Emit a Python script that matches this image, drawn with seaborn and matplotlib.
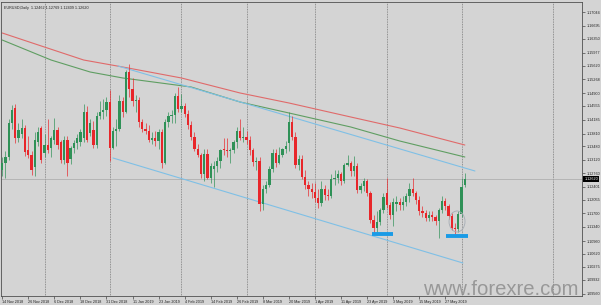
import numpy as np
import pandas as pd
import matplotlib
matplotlib.use("Agg")
import matplotlib.pyplot as plt
import seaborn as sns
from matplotlib.patches import Ellipse
from matplotlib.transforms import blended_transform_factory

# ---------------- data (EURUSD daily) ----------------
opens = [1.1285, 1.1304, 1.1320, 1.1410, 1.1450, 1.1370, 1.1380, 1.1397, 1.1338, 1.1325,
         1.1293, 1.1360, 1.1397, 1.1330, 1.1352, 1.1344, 1.1365, 1.1392, 1.1360, 1.1312,
         1.1365, 1.1315, 1.1344, 1.1357, 1.1360, 1.1370, 1.1440, 1.1384, 1.1392, 1.1352,
         1.1430, 1.1440, 1.1446, 1.1466, 1.1345, 1.1390, 1.1395, 1.1470, 1.1440, 1.1545,
         1.1500, 1.1468, 1.1472, 1.1412, 1.1395, 1.1388, 1.1364, 1.1370, 1.1362, 1.1385,
         1.1305, 1.1412, 1.1428, 1.1432, 1.1482, 1.1447, 1.1455, 1.1435, 1.1405, 1.1372,
         1.1342, 1.1325, 1.1275, 1.1327, 1.1265, 1.1288, 1.1296, 1.1310, 1.1340, 1.1338,
         1.1335, 1.1338, 1.1360, 1.1390, 1.1370, 1.1372, 1.1364, 1.1338, 1.1306, 1.1308,
         1.1195, 1.1235, 1.1245, 1.1287, 1.1330, 1.1305, 1.1326, 1.1340, 1.1357, 1.1413,
         1.1373, 1.1299, 1.1315, 1.1267, 1.1245, 1.1235, 1.1227, 1.1212, 1.1197, 1.1235,
         1.1220, 1.1215, 1.1262, 1.1265, 1.1275, 1.1255, 1.1298, 1.1305, 1.1282, 1.1296,
         1.1232, 1.1243, 1.1255, 1.1224, 1.1152, 1.1131, 1.1148, 1.1179, 1.1224, 1.1192,
         1.1166, 1.1195, 1.1200, 1.1192, 1.1200, 1.1215, 1.1235, 1.1225, 1.1205, 1.1175,
         1.1172, 1.1157, 1.1165, 1.1160, 1.1150, 1.1180, 1.1203, 1.1190, 1.1162, 1.1131,
         1.1128, 1.1168, 1.1246]
highs = [1.1320, 1.1335, 1.1420, 1.1458, 1.1460, 1.1410, 1.1420, 1.1405, 1.1375, 1.1335,
         1.1385, 1.1400, 1.1402, 1.1380, 1.1420, 1.1375, 1.1424, 1.1400, 1.1365, 1.1375,
         1.1375, 1.1350, 1.1365, 1.1380, 1.1395, 1.1460, 1.1455, 1.1420, 1.1415, 1.1440,
         1.1470, 1.1475, 1.1480, 1.1498, 1.1400, 1.1420, 1.1485, 1.1480, 1.1550, 1.1568,
         1.1530, 1.1485, 1.1480, 1.1420, 1.1410, 1.1405, 1.1385, 1.1390, 1.1395, 1.1395,
         1.1420, 1.1440, 1.1445, 1.1490, 1.1505, 1.1488, 1.1463, 1.1445, 1.1415, 1.1385,
         1.1355, 1.1330, 1.1340, 1.1340, 1.1305, 1.1310, 1.1320, 1.1340, 1.1370, 1.1370,
         1.1345, 1.1365, 1.1400, 1.1420, 1.1400, 1.1390, 1.1375, 1.1345, 1.1320, 1.1320,
         1.1245, 1.1255, 1.1295, 1.1340, 1.1340, 1.1346, 1.1345, 1.1362, 1.1440, 1.1430,
         1.1385, 1.1325, 1.1325, 1.1285, 1.1255, 1.1250, 1.1250, 1.1235, 1.1255, 1.1245,
         1.1235, 1.1275, 1.1285, 1.1285, 1.1280, 1.1305, 1.1325, 1.1310, 1.1323, 1.1305,
         1.1250, 1.1265, 1.1262, 1.1230, 1.1165, 1.1175, 1.1185, 1.1225, 1.1265, 1.1200,
         1.1210, 1.1215, 1.1210, 1.1215, 1.1225, 1.1250, 1.1263, 1.1230, 1.1215, 1.1190,
         1.1180, 1.1175, 1.1175, 1.1165, 1.1185, 1.1215, 1.1210, 1.1195, 1.1170, 1.1145,
         1.1175, 1.1265, 1.1277]
lows = [1.1270, 1.1265, 1.1312, 1.1395, 1.1357, 1.1360, 1.1370, 1.1323, 1.1318, 1.1272,
        1.1270, 1.1350, 1.1305, 1.1320, 1.1330, 1.1320, 1.1355, 1.1340, 1.1305, 1.1300,
        1.1269, 1.1300, 1.1330, 1.1340, 1.1350, 1.1360, 1.1360, 1.1375, 1.1345, 1.1345,
        1.1420, 1.1420, 1.1430, 1.1310, 1.1340, 1.1350, 1.1390, 1.1425, 1.1438, 1.1480,
        1.1455, 1.1440, 1.1400, 1.1385, 1.1380, 1.1360, 1.1355, 1.1350, 1.1340, 1.1290,
        1.1300, 1.1400, 1.1410, 1.1410, 1.1440, 1.1440, 1.1425, 1.1395, 1.1365, 1.1335,
        1.1320, 1.1265, 1.1255, 1.1260, 1.1250, 1.1240, 1.1280, 1.1290, 1.1325, 1.1320,
        1.1305, 1.1330, 1.1345, 1.1365, 1.1360, 1.1355, 1.1325, 1.1295, 1.1285, 1.1176,
        1.1180, 1.1225, 1.1240, 1.1280, 1.1292, 1.1300, 1.1320, 1.1330, 1.1335, 1.1365,
        1.1290, 1.1285, 1.1260, 1.1235, 1.1215, 1.1210, 1.1200, 1.1184, 1.1190, 1.1205,
        1.1205, 1.1210, 1.1245, 1.1250, 1.1245, 1.1250, 1.1295, 1.1270, 1.1270, 1.1225,
        1.1225, 1.1230, 1.1215, 1.1145, 1.1118, 1.1112, 1.1140, 1.1170, 1.1185, 1.1155,
        1.1135, 1.1175, 1.1180, 1.1180, 1.1190, 1.1200, 1.1215, 1.1195, 1.1165, 1.1160,
        1.1150, 1.1150, 1.1150, 1.1140, 1.1105, 1.1170, 1.1180, 1.1155, 1.1125, 1.1116,
        1.1120, 1.1160, 1.1241]
closes = [1.1304, 1.1320, 1.1410, 1.1445, 1.1370, 1.1392, 1.1397, 1.1333, 1.1325, 1.1285,
          1.1365, 1.1386, 1.1312, 1.1352, 1.1338, 1.1370, 1.1392, 1.1352, 1.1312, 1.1365,
          1.1304, 1.1344, 1.1357, 1.1370, 1.1385, 1.1440, 1.1365, 1.1410, 1.1352, 1.1430,
          1.1440, 1.1446, 1.1466, 1.1345, 1.1390, 1.1395, 1.1470, 1.1440, 1.1545, 1.1500,
          1.1468, 1.1472, 1.1412, 1.1395, 1.1388, 1.1364, 1.1370, 1.1362, 1.1385, 1.1305,
          1.1412, 1.1428, 1.1432, 1.1482, 1.1447, 1.1455, 1.1435, 1.1405, 1.1372, 1.1342,
          1.1325, 1.1275, 1.1327, 1.1265, 1.1295, 1.1296, 1.1310, 1.1338, 1.1338, 1.1335,
          1.1338, 1.1360, 1.1390, 1.1370, 1.1372, 1.1364, 1.1338, 1.1306, 1.1308, 1.1195,
          1.1235, 1.1245, 1.1287, 1.1330, 1.1305, 1.1326, 1.1340, 1.1350, 1.1413, 1.1373,
          1.1299, 1.1315, 1.1267, 1.1245, 1.1235, 1.1227, 1.1212, 1.1197, 1.1235, 1.1220,
          1.1215, 1.1262, 1.1265, 1.1275, 1.1255, 1.1298, 1.1305, 1.1282, 1.1296, 1.1232,
          1.1243, 1.1255, 1.1224, 1.1152, 1.1131, 1.1148, 1.1179, 1.1213, 1.1192, 1.1166,
          1.1200, 1.1200, 1.1192, 1.1200, 1.1215, 1.1235, 1.1225, 1.1205, 1.1175, 1.1172,
          1.1157, 1.1165, 1.1160, 1.1150, 1.1180, 1.1203, 1.1190, 1.1162, 1.1131, 1.1128,
          1.1168, 1.1240, 1.1262]

# moving averages (sampled vertices, bar index -> price)
ma_idx = [0, 12, 25, 37, 55, 73, 88, 107, 122, 142]
ma_red = [1.16497, 1.16151, 1.15778, 1.15592, 1.15300, 1.14901, 1.14635, 1.14262, 1.13970, 1.13517]
ma_green_idx = [0, 15, 27, 37, 58, 73, 88, 107, 122, 142]
ma_green = [1.16310, 1.15778, 1.15459, 1.15300, 1.15060, 1.14661, 1.14369, 1.13996, 1.13624, 1.13198]

# trend channel (bar index, price)
chan_up_idx = [35.5, 145.1]
chan_up_px = [1.15619, 1.12826]
chan_lo_idx = [34.0, 141.4]
chan_lo_px = [1.13172, 1.10379]

# support marks
sup1_idx = [113.5, 120.0]
sup1_px = 1.11150
sup2_idx = [136.2, 143.0]
sup2_px = 1.11097

# period separators (bar index)
month_sep = [13, 33, 55, 75, 96, 118, 141, 169]

date_labels = ["14 Nov 2018", "26 Nov 2018", "6 Dec 2018", "18 Dec 2018", "31 Dec 2018",
               "11 Jan 2019", "23 Jan 2019", "4 Feb 2019", "14 Feb 2019", "26 Feb 2019",
               "8 Mar 2019", "20 Mar 2019", "1 Apr 2019", "11 Apr 2019", "23 Apr 2019",
               "3 May 2019", "15 May 2019", "27 May 2019"]
price_ticks = [1.17044, 1.16695, 1.16350, 1.15977, 1.15620, 1.15268, 1.14900, 1.14555,
               1.14185, 1.13810, 1.13480, 1.13120, 1.12760, 1.12401, 1.12055, 1.11700,
               1.11340, 1.10960, 1.10620, 1.10275, 1.09932, 1.09560]
title_text = "EURUSD,Daily  1.12462 1.12769 1.12409 1.12620"
watermark = "www.forexre.com"

# ---------------- drawing ----------------
BG = "#d4d4d4"
UP = "#2f9157"
DN = "#e8262a"

sns.set_theme(style="white")
plt.rcParams["font.family"] = ["Liberation Sans", "DejaVu Sans"]

W, H = 601, 305
fig = plt.figure(figsize=(W / 100, H / 100), dpi=100, facecolor=BG)
ax = fig.add_axes([1 / W, (H - 296) / H, 581 / W, 294 / H])
ax.set_facecolor(BG)

df = pd.DataFrame({"o": opens, "h": highs, "l": lows, "c": closes})
df["i"] = np.arange(len(df))
df["up"] = df["c"] >= df["o"]
cols = np.where(df["up"], UP, DN)

ax.vlines(df["i"], df["l"], df["h"], colors=cols, linewidth=0.6, alpha=0.8, zorder=3)
body = np.maximum((df["c"] - df["o"]).abs(), 0.00008)
ax.bar(df["i"], body, bottom=np.minimum(df["o"], df["c"]), width=0.7,
       color=cols, linewidth=0, zorder=4)

sns.lineplot(x=ma_idx, y=ma_red, ax=ax, color="#e06a6a", linewidth=0.8, zorder=2)
sns.lineplot(x=ma_green_idx, y=ma_green, ax=ax, color="#5f9e62", linewidth=0.8, zorder=2)
ax.plot(chan_up_idx, chan_up_px, color="#7fc0e6", linewidth=0.8, zorder=2)
ax.plot(chan_lo_idx, chan_lo_px, color="#7fc0e6", linewidth=0.8, zorder=2)

ax.hlines(sup1_px, sup1_idx[0], sup1_idx[1], color="#1a9be6", linewidth=2.8, zorder=5)
ax.hlines(sup2_px, sup2_idx[0], sup2_idx[1], color="#1a9be6", linewidth=2.8, zorder=5)
ax.add_patch(Ellipse((139.6, 1.11483), width=4.9, height=0.00559, fill=False,
                     edgecolor="#a5acb4", linewidth=0.6, zorder=6))

for s in month_sep:
    ax.axvline(s, color="#7a7a7a", linestyle=(0, (1, 1)), linewidth=0.6, zorder=1)

ax.axhline(closes[-1], color="#a8a8a8", linewidth=0.5, zorder=1)

ax.set_xlim(-0.37, 177.96)
ax.set_ylim(1.09501, 1.17321)

ax.yaxis.tick_right()
ax.set_yticks(price_ticks)
ax.set_yticklabels([f"{v:.5f}" for v in price_ticks])
ax.set_xticks(list(range(0, 8 * len(date_labels), 8)))
ax.set_xticklabels(date_labels, ha="left")
ax.tick_params(axis="both", labelsize=2.7, colors="#222222", length=2, width=0.4, pad=1)
ax.tick_params(axis="y", right=True, left=False)
ax.tick_params(axis="x", bottom=True)
for sp in ax.spines.values():
    sp.set_color("#505050")
    sp.set_linewidth(0.6)

tr = blended_transform_factory(ax.transAxes, ax.transData)
ax.text(1.004, closes[-1], f"{closes[-1]:.5f}", transform=tr, fontsize=2.7, color="white",
        va="center", ha="left", zorder=10,
        bbox=dict(facecolor="black", edgecolor="none", pad=0.6))
ax.text(0.006, 0.985, title_text, transform=ax.transAxes, fontsize=2.7, color="#222222",
        va="top", ha="left")
fig.text(423 / W, (H - 295) / H, watermark, fontsize=14.6, color="#8e8e8e", alpha=0.85,
         ha="left", va="baseline")

fig.savefig("out.png", dpi=100, facecolor=BG)
